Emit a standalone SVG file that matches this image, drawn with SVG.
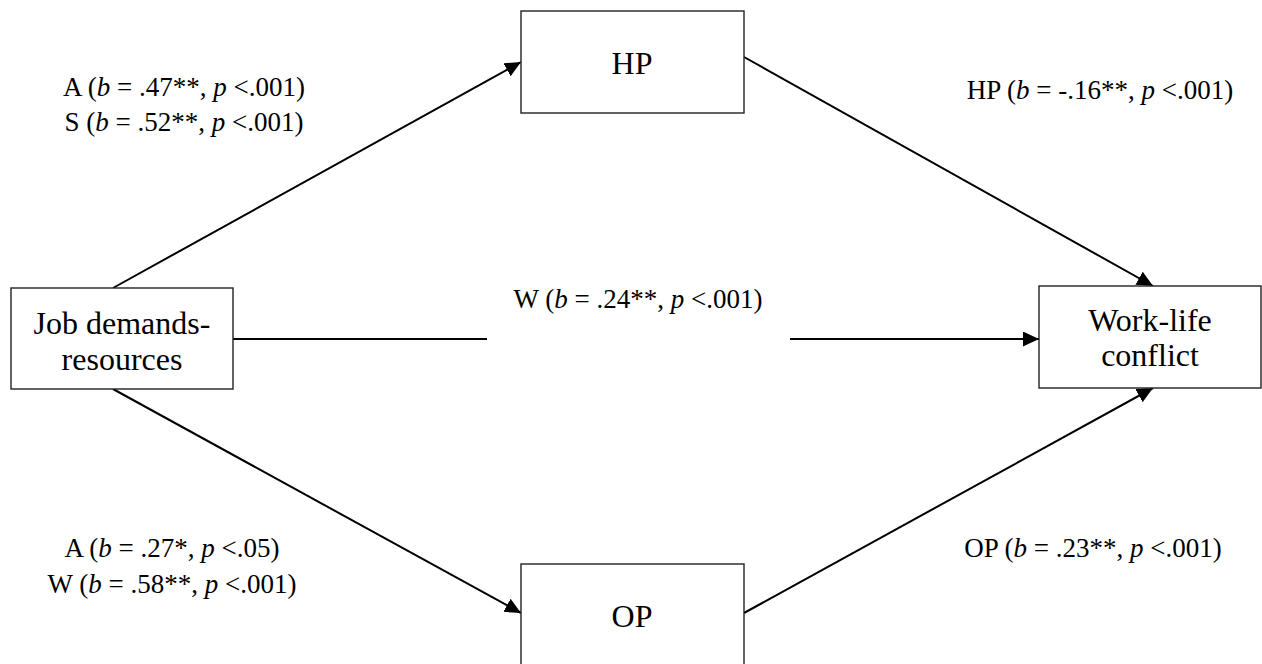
<svg xmlns="http://www.w3.org/2000/svg" width="1262" height="664" viewBox="0 0 1262 664">
<style>
.box{fill:#fff;stroke:#222;stroke-width:1.4}
.nt{font-family:"Liberation Serif","Times New Roman",serif;font-size:32px;fill:#000;text-anchor:middle}
.lb{font-family:"Liberation Serif","Times New Roman",serif;font-size:27px;fill:#000;text-anchor:middle}
.i{font-style:italic}
.edge{stroke:#000;stroke-width:2;fill:none}
</style>
<defs>
<marker id="ah" markerUnits="userSpaceOnUse" markerWidth="17" markerHeight="16" refX="16" refY="7.5" orient="auto" viewBox="0 0 17 16">
<path d="M0,0 L16,7.5 L0,15 z" fill="#000"/>
</marker>
</defs>
<rect width="1262" height="664" fill="#fff"/>
<g id="connectors">
<line class="edge" x1="113" y1="288" x2="521" y2="62" marker-end="url(#ah)"/>
<line class="edge" x1="113" y1="389" x2="521" y2="613" marker-end="url(#ah)"/>
<line class="edge" x1="744" y1="57" x2="1153" y2="286" marker-end="url(#ah)"/>
<line class="edge" x1="744" y1="613" x2="1153" y2="388" marker-end="url(#ah)"/>
<line class="edge" x1="233" y1="339" x2="487" y2="339"/>
<line class="edge" x1="790" y1="339" x2="1039" y2="339" marker-end="url(#ah)"/>
</g>
<g id="node-jdr">
<rect class="box" x="11" y="288" width="222" height="101"/>
<text class="nt" x="122" y="334">Job demands-</text>
<text class="nt" x="122" y="370">resources</text>
</g>
<g id="node-hp">
<rect class="box" x="521" y="11" width="223" height="102"/>
<text class="nt" x="632" y="74">HP</text>
</g>
<g id="node-op">
<rect class="box" x="521" y="564" width="223" height="102"/>
<text class="nt" x="632" y="627">OP</text>
</g>
<g id="node-wlc">
<rect class="box" x="1039" y="286" width="222" height="102"/>
<text class="nt" x="1150" y="331">Work-life</text>
<text class="nt" x="1150" y="366">conflict</text>
</g>
<g id="labels">
<text class="lb" x="184" y="96">A (<tspan class="i">b</tspan> = .47**, <tspan class="i">p</tspan> &lt;.001)</text>
<text class="lb" x="184" y="131">S (<tspan class="i">b</tspan> = .52**, <tspan class="i">p</tspan> &lt;.001)</text>
<text class="lb" x="1100" y="99">HP (<tspan class="i">b</tspan> = -.16**, <tspan class="i">p</tspan> &lt;.001)</text>
<text class="lb" x="638" y="308">W (<tspan class="i">b</tspan> = .24**, <tspan class="i">p</tspan> &lt;.001)</text>
<text class="lb" x="172" y="557">A (<tspan class="i">b</tspan> = .27*, <tspan class="i">p</tspan> &lt;.05)</text>
<text class="lb" x="172" y="593">W (<tspan class="i">b</tspan> = .58**, <tspan class="i">p</tspan> &lt;.001)</text>
<text class="lb" x="1093" y="557">OP (<tspan class="i">b</tspan> = .23**, <tspan class="i">p</tspan> &lt;.001)</text>
</g>
</svg>
